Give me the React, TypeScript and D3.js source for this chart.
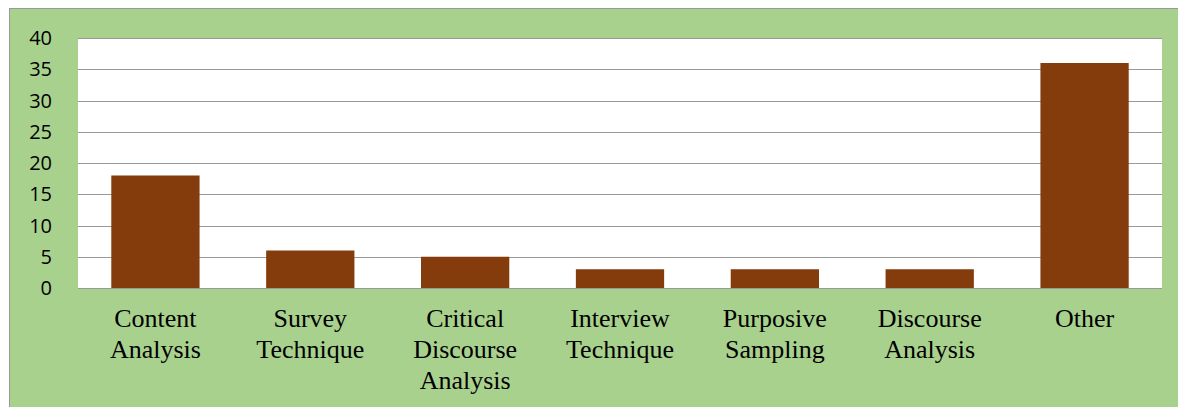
import * as d3 from 'd3';

// chart data
const categories = [
  'Content Analysis',
  'Survey Technique',
  'Critical Discourse Analysis',
  'Interview Technique',
  'Purposive Sampling',
  'Discourse Analysis',
  'Other',
];
const labelLines = [
  ['Content', 'Analysis'],
  ['Survey', 'Technique'],
  ['Critical', 'Discourse', 'Analysis'],
  ['Interview', 'Technique'],
  ['Purposive', 'Sampling'],
  ['Discourse', 'Analysis'],
  ['Other'],
];
const counts = [18, 6, 5, 3, 3, 3, 36];
const yTicks = [0, 5, 10, 15, 20, 25, 30, 35, 40];

const W = 1178;
const H = 407;
const plot = { left: 78, right: 1162, top: 38, bottom: 288 };

const App = () => {
  const x = d3
    .scaleBand<string>()
    .domain(categories)
    .range([plot.left, plot.right])
    .paddingInner(0.43)
    .paddingOuter(0.215);

  const y = d3.scaleLinear().domain([0, 40]).range([plot.bottom, plot.top]);

  return (
    <svg
      width={W}
      height={H}
      style={{ position: 'absolute', left: 0, top: 0, display: 'block' }}
    >
      <rect x={9.5} y={8.5} width={W} height={H} fill="#a9d18e" stroke="#999" strokeWidth={1} />
      <rect
        x={plot.left}
        y={plot.top}
        width={plot.right - plot.left}
        height={plot.bottom - plot.top}
        fill="#ffffff"
      />
      {yTicks.map((t) => (
        <g key={t}>
          <line
            x1={plot.left}
            x2={plot.right}
            y1={Math.round(y(t)) + 0.5}
            y2={Math.round(y(t)) + 0.5}
            stroke="#999"
            strokeWidth={1}
          />
          <text
            x={52}
            y={y(t)}
            dy="0.36em"
            textAnchor="end"
            fontFamily="'Open Sans', 'Noto Sans', sans-serif"
            fontSize={20}
            fill="#000"
          >
            {t}
          </text>
        </g>
      ))}
      {categories.map((c, i) => (
        <rect
          key={c}
          x={x(c)}
          y={y(counts[i])}
          width={x.bandwidth()}
          height={y(0) - y(counts[i])}
          fill="#843c0c"
        />
      ))}
      {categories.map((c, i) => (
        <text
          key={c}
          x={(x(c) ?? 0) + x.bandwidth() / 2}
          y={327}
          textAnchor="middle"
          fontFamily="'Liberation Serif', 'Times New Roman', serif"
          fontSize={26}
          fill="#000"
        >
          {labelLines[i].map((ln, j) => (
            <tspan key={j} x={(x(c) ?? 0) + x.bandwidth() / 2} dy={j === 0 ? 0 : 31}>
              {ln}
            </tspan>
          ))}
        </text>
      ))}
    </svg>
  );
};

export default App;
